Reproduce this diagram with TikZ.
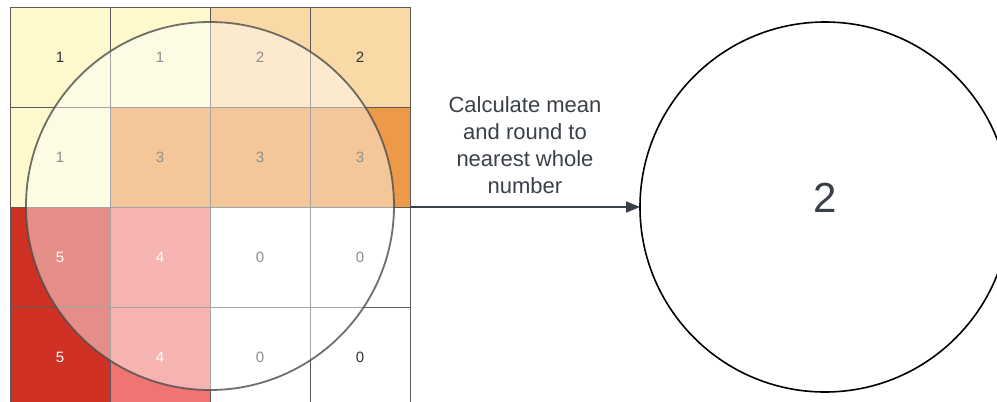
\documentclass[tikz,border=0pt]{standalone}
\usepackage{fontspec}
\setmainfont{Liberation Sans}
\usetikzlibrary{arrows.meta}
\definecolor{vone}{HTML}{FDF9CC}
\definecolor{vtwo}{HTML}{F9D9A6}
\definecolor{vthree}{HTML}{EC9A48}
\definecolor{vfour}{HTML}{EE7572}
\definecolor{vfive}{HTML}{D03125}
\definecolor{txtdark}{HTML}{2E3238}
\definecolor{slate}{HTML}{3A4048}
\definecolor{gridline}{HTML}{5A5A5A}
\begin{document}
\begin{tikzpicture}[x=1pt,y=-1pt,
  cell/.style={draw=gridline, line width=0.8pt, minimum size=100pt, inner sep=0pt, outer sep=0pt,
    font=\fontsize{15}{18}\selectfont, text=txtdark},
  celllight/.style={cell, text=white},
  overlaycirc/.style={circle, draw=black!70, draw opacity=0.8, line width=1.8pt, fill=white, fill opacity=0.45,
    minimum size=368pt, inner sep=0pt, outer sep=0pt},
  rescirc/.style={circle, draw=black, line width=1.6pt, minimum size=370pt, inner sep=0pt, outer sep=0pt,
    font=\fontsize{42}{48}\selectfont, text=slate, text depth=18pt},
  arrowline/.style={draw=slate, line width=1.8pt, -{Triangle[length=14pt,width=11pt]}},
  lbl/.style={font=\fontsize{22}{27}\selectfont, text=slate, align=center, inner sep=0pt}
]
\useasboundingbox (0,0) rectangle (997,402);
\clip (0,0) rectangle (997,402);
% row 0
\node[cell, fill=vone]   (c00) at (60,57)  {1};
\node[cell, fill=vone]   (c10) at (160,57) {1};
\node[cell, fill=vtwo]   (c20) at (260,57) {2};
\node[cell, fill=vtwo]   (c30) at (360,57) {2};
% row 1
\node[cell, fill=vone]   (c01) at (60,157)  {1};
\node[cell, fill=vthree] (c11) at (160,157) {3};
\node[cell, fill=vthree] (c21) at (260,157) {3};
\node[cell, fill=vthree] (c31) at (360,157) {3};
% row 2
\node[celllight, fill=vfive] (c02) at (60,257)  {5};
\node[celllight, fill=vfour] (c12) at (160,257) {4};
\node[cell, fill=white]      (c22) at (260,257) {0};
\node[cell, fill=white]      (c32) at (360,257) {0};
% row 3
\node[celllight, fill=vfive] (c03) at (60,357)  {5};
\node[celllight, fill=vfour] (c13) at (160,357) {4};
\node[cell, fill=white]      (c23) at (260,357) {0};
\node[cell, fill=white]      (c33) at (360,357) {0};
% overlay window
\node[overlaycirc] (win) at (210,206) {};
% result
\node[rescirc] (res) at (825,207) {2};
% arrow
\draw[arrowline] (c31.south east) -- (res.west)
  node[lbl, midway, above=12pt] (lab) {Calculate mean\\and round to\\nearest whole\\number};
\end{tikzpicture}
\end{document}
